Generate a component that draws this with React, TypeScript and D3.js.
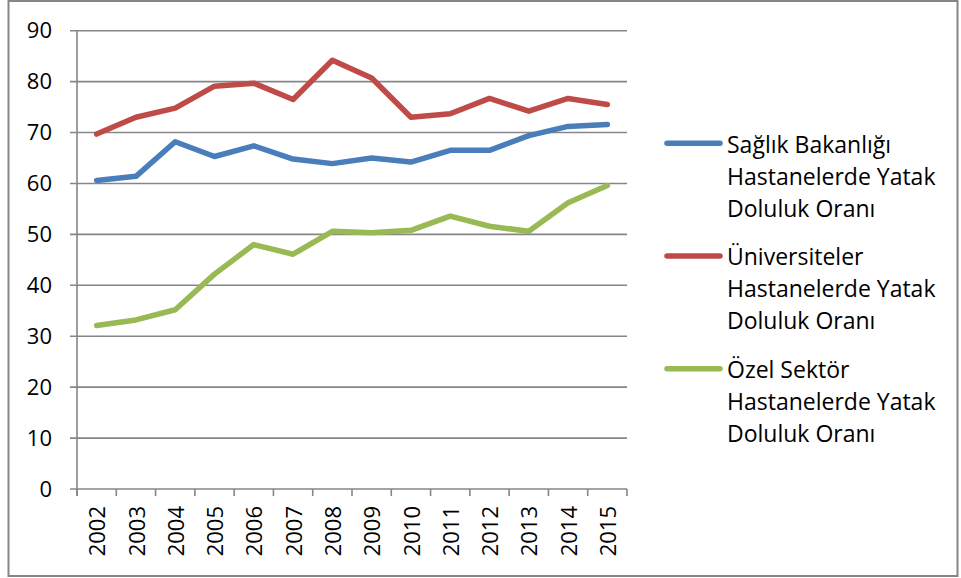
import * as d3 from "d3";

// yatak doluluk oranları (%), okunan değerler
const years = ["2002", "2003", "2004", "2005", "2006", "2007", "2008", "2009", "2010", "2011", "2012", "2013", "2014", "2015"];
const saglikBakanligi = [60.6, 61.4, 68.2, 65.3, 67.4, 64.8, 63.9, 65.0, 64.2, 66.5, 66.5, 69.4, 71.2, 71.6];
const universiteler = [69.7, 73.0, 74.8, 79.1, 79.7, 76.5, 84.2, 80.7, 73.0, 73.7, 76.7, 74.2, 76.7, 75.5];
const ozelSektor = [32.1, 33.2, 35.2, 42.2, 48.0, 46.1, 50.6, 50.3, 50.8, 53.6, 51.6, 50.6, 56.2, 59.6];
const yTicks = [0, 10, 20, 30, 40, 50, 60, 70, 80, 90];

const legendLabels = [
  ["Sağlık Bakanlığı", "Hastanelerde Yatak", "Doluluk Oranı"],
  ["Üniversiteler", "Hastanelerde Yatak", "Doluluk Oranı"],
  ["Özel Sektör", "Hastanelerde Yatak", "Doluluk Oranı"],
];

const series = [
  { values: saglikBakanligi, color: "#4a7ebb" },
  { values: universiteler, color: "#be4b48" },
  { values: ozelSektor, color: "#98b954" },
];

const W = 961;
const H = 578;
const font = "'Open Sans', sans-serif";
const gridColor = "#868686";

export default function App() {
  const x = d3.scaleBand().domain(years).range([77, 627]);
  const y = d3.scaleLinear().domain([0, 90]).range([489, 30.7]);
  const cx = (d: string) => (x(d) as number) + x.bandwidth() / 2;

  const line = (vals: number[]) =>
    d3.line<number>()
      .x((_, i) => cx(years[i]))
      .y((v) => y(v))(vals) as string;

  const xBounds = years.map((d) => x(d) as number).concat([627]);

  return (
    <svg width={W} height={H} style={{ position: "absolute", left: 0, top: 0, fontFamily: font }}>
      <rect x={0} y={0} width={W} height={H} fill="#fff" />
      <rect x={8.5} y={1} width={W - 12} height={H - 3} fill="none" stroke={gridColor} strokeWidth={2} />

      {/* grid + y ticks */}
      {yTicks.map((t) => (
        <g key={t}>
          <line x1={70} x2={627} y1={y(t)} y2={y(t)} stroke={gridColor} strokeWidth={1.6} />
          <text x={52} y={y(t)} dy="0.35em" textAnchor="end" fontSize={22} fill="#000">{t}</text>
        </g>
      ))}
      <line x1={77} x2={77} y1={y(90)} y2={496} stroke={gridColor} strokeWidth={1.6} />
      {xBounds.map((b, i) => (
        <line key={i} x1={b} x2={b} y1={489} y2={496} stroke={gridColor} strokeWidth={1.6} />
      ))}

      {/* x labels */}
      {years.map((d) => (
        <text key={d} transform={`translate(${cx(d) + 1},506) rotate(-90)`} dy="0.35em" textAnchor="end" fontSize={22} fill="#000">{d}</text>
      ))}

      {/* lines */}
      {series.map((s, i) => (
        <path key={i} d={line(s.values)} fill="none" stroke={s.color} strokeWidth={5.5} strokeLinejoin="round" strokeLinecap="round" />
      ))}

      {/* legend */}
      {series.map((s, i) => {
        const base = 152.7 + i * 112.7;
        return (
          <g key={i}>
            <line x1={667} x2={720} y1={base - 9.4} y2={base - 9.4} stroke={s.color} strokeWidth={5.5} strokeLinecap="round" />
            {legendLabels[i].map((l, j) => (
              <text key={j} x={727} y={base + j * 32} fontSize={23} fill="#000">{l}</text>
            ))}
          </g>
        );
      })}
    </svg>
  );
}
